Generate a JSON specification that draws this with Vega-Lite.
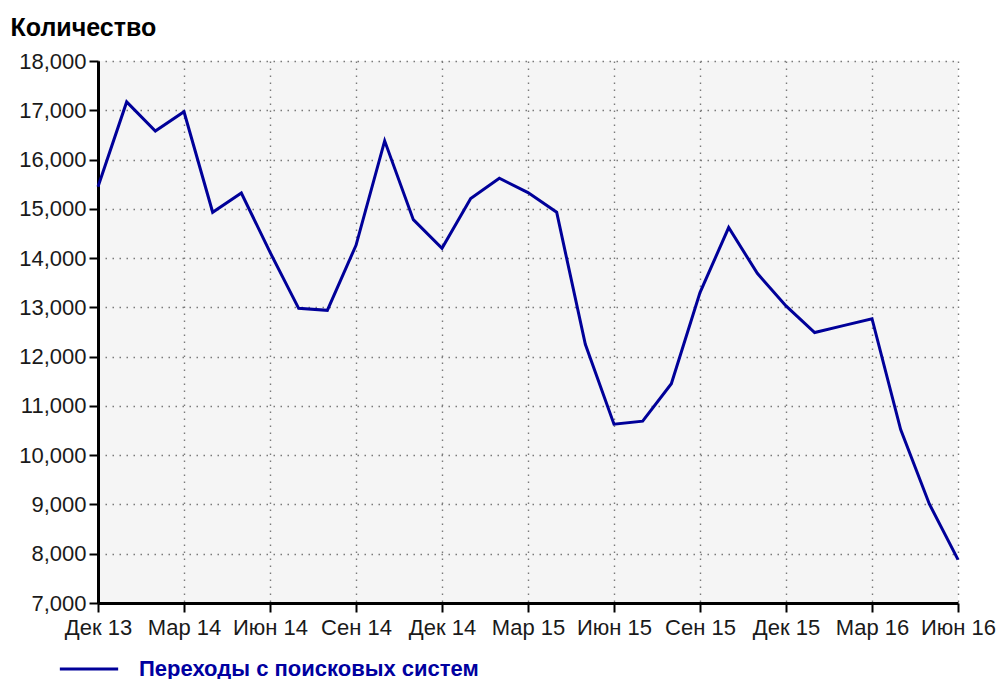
{
  "$schema": "https://vega.github.io/schema/vega-lite/v6.json",
  "width": 860,
  "height": 542,
  "autosize": {"type": "none"},
  "padding": {"left": 98, "top": 61, "right": 39, "bottom": 76},
  "background": "white",
  "config": {
    "view": {"fill": "#f5f5f5", "stroke": null},
    "font": "Liberation Sans",
    "axis": {
      "labelFont": "Liberation Sans",
      "labelFontSize": 22,
      "labelColor": "#1a1a1a",
      "domainColor": "black",
      "domainWidth": 3,
      "tickColor": "black",
      "tickWidth": 2,
      "tickSize": 9,
      "gridColor": "#7a7a7a",
      "gridWidth": 1.4,
      "gridDash": [1.5, 5.5],
      "gridOpacity": 1
    }
  },
  "data": {
    "values": [
      {"month": "2013-12", "value": 15450},
      {"month": "2014-01", "value": 17170},
      {"month": "2014-02", "value": 16580},
      {"month": "2014-03", "value": 16970},
      {"month": "2014-04", "value": 14930},
      {"month": "2014-05", "value": 15320},
      {"month": "2014-06", "value": 14120},
      {"month": "2014-07", "value": 12980},
      {"month": "2014-08", "value": 12940},
      {"month": "2014-09", "value": 14260},
      {"month": "2014-10", "value": 16380},
      {"month": "2014-11", "value": 14780},
      {"month": "2014-12", "value": 14200},
      {"month": "2015-01", "value": 15210},
      {"month": "2015-02", "value": 15620},
      {"month": "2015-03", "value": 15330},
      {"month": "2015-04", "value": 14930},
      {"month": "2015-05", "value": 12250},
      {"month": "2015-06", "value": 10630},
      {"month": "2015-07", "value": 10690},
      {"month": "2015-08", "value": 11450},
      {"month": "2015-09", "value": 13300},
      {"month": "2015-10", "value": 14620},
      {"month": "2015-11", "value": 13690},
      {"month": "2015-12", "value": 13030},
      {"month": "2016-01", "value": 12490},
      {"month": "2016-02", "value": 12630},
      {"month": "2016-03", "value": 12770},
      {"month": "2016-04", "value": 10520},
      {"month": "2016-05", "value": 9010},
      {"month": "2016-06", "value": 7880}
    ]
  },
  "mark": {"type": "line", "strokeWidth": 3, "interpolate": "linear"},
  "encoding": {
    "x": {
      "field": "month",
      "type": "ordinal",
      "sort": null,
      "scale": {"type": "point", "padding": 0},
      "axis": {
        "title": null,
        "labelAngle": 0,
        "labelPadding": 5,
        "values": ["2013-12", "2014-03", "2014-06", "2014-09", "2014-12", "2015-03", "2015-06", "2015-09", "2015-12", "2016-03", "2016-06"],
        "labelExpr": "(substring(datum.value,5,7)=='12' ? 'Дек' : substring(datum.value,5,7)=='03' ? 'Мар' : substring(datum.value,5,7)=='06' ? 'Июн' : 'Сен') + ' ' + substring(datum.value,2,4)",
        "grid": true
      }
    },
    "y": {
      "field": "value",
      "type": "quantitative",
      "scale": {"domain": [7000, 18000], "nice": false, "zero": false},
      "axis": {
        "values": [7000, 8000, 9000, 10000, 11000, 12000, 13000, 14000, 15000, 16000, 17000, 18000],
        "format": ",d",
        "labelPadding": 3,
        "grid": true,
        "title": "Количество",
        "titleAngle": 0,
        "titleAlign": "left",
        "titleBaseline": "alphabetic",
        "titleX": -88,
        "titleY": -26,
        "titleFont": "Liberation Sans",
        "titleFontSize": 25,
        "titleFontWeight": "bold",
        "titleColor": "black"
      }
    },
    "color": {
      "datum": "Переходы с поисковых систем",
      "type": "nominal",
      "scale": {"range": ["#000099"]},
      "legend": {
        "title": null,
        "orient": "none",
        "legendX": -40,
        "legendY": 577,
        "symbolType": "stroke",
        "symbolSize": 3400,
        "symbolStrokeWidth": 3,
        "labelOffset": 19,
        "labelFont": "Liberation Sans",
        "labelFontSize": 22,
        "labelFontWeight": "bold",
        "labelColor": "#0000a0",
        "labelLimit": 600
      }
    }
  }
}
